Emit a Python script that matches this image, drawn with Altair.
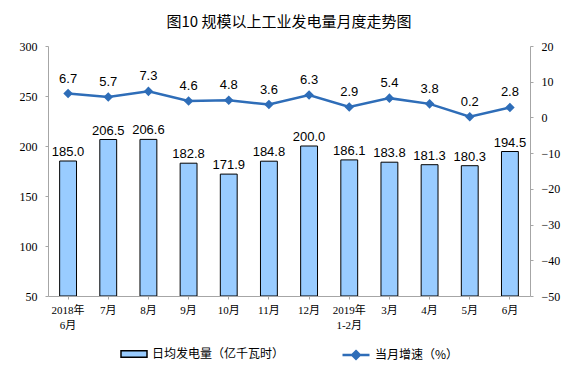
import altair as alt
import pandas as pd

categories = ["2018年|6月", "7月", "8月", "9月", "10月", "11月", "12月",
              "2019年|1-2月", "3月", "4月", "5月", "6月"]
daily_output = [185.0, 206.5, 206.6, 182.8, 171.9, 184.8, 200.0,
                186.1, 183.8, 181.3, 180.3, 194.5]
growth = [6.7, 5.7, 7.3, 4.6, 4.8, 3.6, 6.3, 2.9, 5.4, 3.8, 0.2, 2.8]
left_ticks = [50, 100, 150, 200, 250, 300]
right_ticks = [-50, -40, -30, -20, -10, 0, 10, 20]

bar_name = "日均发电量（亿千瓦时）"
line_name = "当月增速（%）"

df = pd.DataFrame({
    "cat": categories,
    "val": daily_output,
    "g": growth,
    "s1": [bar_name] * len(categories),
    "s2": [line_name] * len(categories),
})

BAR_COLOR = "#99CCFF"
LINE_COLOR = "#2E6DB8"
NUM_FONT = "Liberation Serif"
LBL_FONT = "Liberation Sans"

x = alt.X("cat:N", sort=categories, title=None,
          scale=alt.Scale(paddingInner=0.58, paddingOuter=0.29),
          axis=alt.Axis(labelAngle=0, labelExpr="split(datum.label, '|')",
                        labelFont="Liberation Serif, Noto Sans CJK SC", labelFontSize=11,
                        labelColor="#000000", labelPadding=5, labelLineHeight=15,
                        domainColor="#A6A6A6", tickColor="#A6A6A6", tickSize=3,
                        labelOverlap=False))

ybar_scale = alt.Scale(domain=[50, 300], nice=False, zero=False)
ybar_axis = alt.Axis(values=left_ticks, orient="left",
                     labelFont=NUM_FONT, labelFontSize=12, labelColor="#000000",
                     labelPadding=8, domainColor="#A6A6A6", tickColor="#A6A6A6",
                     tickSize=3, grid=False, labelOverlap=False, title=None)

y2scale = alt.Scale(domain=[-50, 20], nice=False, zero=False)
y2axis = alt.Axis(values=right_ticks, orient="right",
                  labelFont=NUM_FONT, labelFontSize=12, labelColor="#000000",
                  labelPadding=8, domainColor="#A6A6A6", tickColor="#A6A6A6",
                  tickSize=3, grid=False, labelOverlap=False, title=None)

bars = alt.Chart(df).mark_bar(stroke="#000000", strokeWidth=1, clip=True).encode(
    x=x,
    y=alt.Y("val:Q", title=None, scale=ybar_scale, axis=ybar_axis),
    y2=alt.datum(50),
    fill=alt.Fill("s1:N", scale=alt.Scale(domain=[bar_name], range=[BAR_COLOR]),
                  legend=alt.Legend(title=None, orient="none", legendX=72, legendY=294,
                                    symbolType="M-1,-0.25H1V0.25H-1Z", symbolSize=676,
                                    symbolStrokeColor="#000000", symbolStrokeWidth=1.5,
                                    labelFont="Noto Sans CJK SC", labelFontSize=12,
                                    labelColor="#000000", labelOffset=4)),
)

bar_text = alt.Chart(df).mark_text(dy=-9, font=LBL_FONT, fontSize=13, color="#000000").encode(
    x=alt.X("cat:N", sort=categories),
    y=alt.Y("val:Q", title=None, scale=ybar_scale, axis=ybar_axis),
    text=alt.Text("val:Q", format=".1f"),
)

line = alt.Chart(df).mark_line(
    strokeWidth=2.5,
    point=alt.OverlayMarkDef(shape="diamond", size=45, filled=True, color=LINE_COLOR),
).encode(
    x=alt.X("cat:N", sort=categories),
    y=alt.Y("g:Q", title=None, scale=y2scale, axis=y2axis),
    stroke=alt.Stroke("s2:N", scale=alt.Scale(domain=[line_name], range=[LINE_COLOR]),
                      legend=alt.Legend(title=None, orient="none", legendX=293, legendY=294,
                                        symbolType="M-1,0H1M0,-0.28L0.28,0L0,0.28L-0.28,0Z",
                                        symbolSize=729, symbolStrokeWidth=2.5,
                                        symbolFillColor=LINE_COLOR,
                                        labelFont="Noto Sans CJK SC", labelFontSize=12,
                                        labelColor="#000000", labelOffset=4)),
)

line_text = alt.Chart(df).mark_text(dy=-15, font=LBL_FONT, fontSize=13, color="#000000").encode(
    x=alt.X("cat:N", sort=categories),
    y=alt.Y("g:Q", title=None, scale=y2scale, axis=y2axis),
    text=alt.Text("g:Q", format=".1f"),
)

left = alt.layer(bars, bar_text)
right = alt.layer(line, line_text)

chart = alt.layer(left, right).resolve_scale(y="independent").properties(
    width=482,
    height=250,
    title=alt.Title("图10 规模以上工业发电量月度走势图", font="Noto Sans CJK SC",
                    fontSize=15, fontWeight="normal", color="#000000",
                    anchor="middle", offset=10),
    autosize=alt.AutoSizeParams(type="none"),
    padding={"left": 48, "top": 46, "right": 44, "bottom": 80},
).configure_view(stroke=None)

chart.save("out.html", embed_options={"renderer": "svg", "actions": False})
